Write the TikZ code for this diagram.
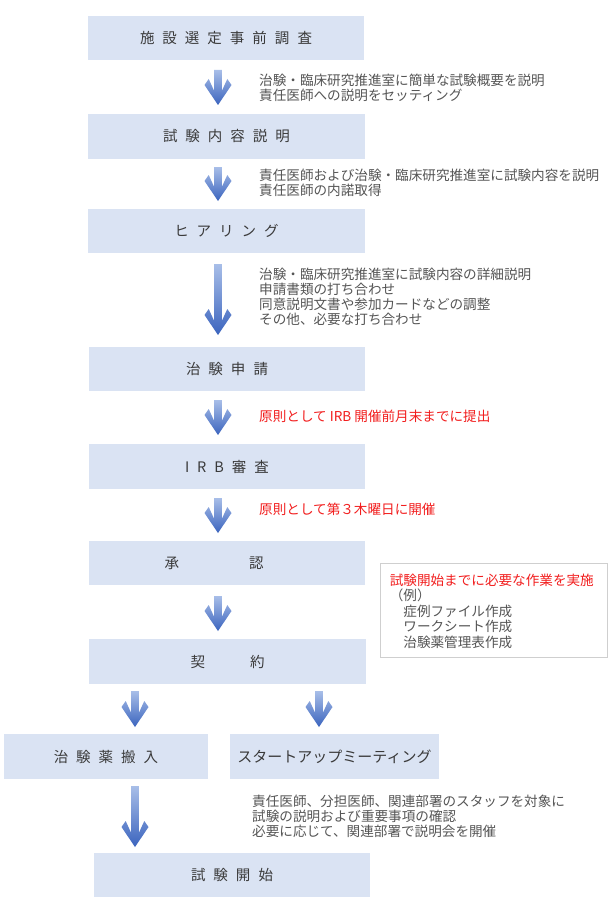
\documentclass[tikz,border=0pt]{standalone}
\usepackage{fontspec}
\setmainfont{Noto Sans CJK JP}
\usetikzlibrary{calc}
\definecolor{boxblue}{HTML}{DAE3F3}
\definecolor{titlegray}{HTML}{3A3A3A}
\definecolor{notegray}{HTML}{555555}
\definecolor{notered}{HTML}{F21E1E}
\definecolor{arrtop}{HTML}{A8BEE8}
\definecolor{arrbot}{HTML}{3B64BE}
\definecolor{framegray}{HTML}{CFCFCF}
\newcommand\ls{\hspace{8pt}}
\newcommand\fatarrow[2]{%
  \shade[top color=arrtop,bottom color=arrbot]
  ($(#1)+(-3.8,0)$) -- ($(#1)+(3.8,0)$) -- ($(#2)+(3.8,-14)$) --
  ($(#2)+(9.3,-26)$) -- ($(#2)+(13.5,-20)$) -- (#2) --
  ($(#2)+(-13.5,-20)$) -- ($(#2)+(-9.3,-26)$) -- ($(#2)+(-3.8,-14)$) -- cycle;}
\begin{document}
\begin{tikzpicture}[x=1pt,y=-1pt,
  box/.style={fill=boxblue, inner sep=0pt, text=titlegray,
    font=\fontsize{14.5}{16}\selectfont, minimum height=44pt},
  note/.style={anchor=north west, inner sep=0pt, align=left, text=notegray,
    font=\fontsize{13.6}{15}\selectfont},
  rednote/.style={note, text=notered}]
\fill[white] (0,0) rectangle (613,915);
\useasboundingbox (0,0) rectangle (613,915);

% boxes
\node[box, minimum width=276pt] (b1) at (226,38) {施\ls 設\ls 選\ls 定\ls 事\ls 前\ls 調\ls 査};
\node[box, minimum width=277pt, minimum height=45pt] (b2) at (226.5,136.5) {試\ls 験\ls 内\ls 容\ls 説\ls 明};
\node[box, minimum width=277pt] (b3) at (226.5,231) {ヒ\ls ア\ls リ\ls ン\ls グ};
\node[box, minimum width=276pt] (b4) at (227,369) {治\ls 験\ls 申\ls 請};
\node[box, minimum width=276pt, minimum height=45pt] (b5) at (227,466.5) {I\ls R\ls B\ls 審\ls 査};
\node[box, minimum width=276pt] (b6) at (227,563) {};
\node[text=titlegray, font=\fontsize{14.5}{16}\selectfont, inner sep=0pt] (b6t) at (214,563) {承\hspace{70pt}認};
\node[box, minimum width=277pt, minimum height=45pt] (b7) at (227.5,661.5) {契\hspace{45pt}約};
\node[box, minimum width=204pt, minimum height=45pt] (b8) at (106,756.5) {治\ls 験\ls 薬\ls 搬\ls 入};
\node[box, minimum width=209pt, minimum height=45pt, font=\fontsize{15}{16}\selectfont] (b9) at (334.5,756.5) {スタートアップミーティング};
\node[box, minimum width=276pt] (b10) at (232,875) {試\ls 験\ls 開\ls 始};

% arrows
\coordinate (a1s) at (218,70);  \coordinate (a1e) at (218,105);
\coordinate (a2s) at (218,167); \coordinate (a2e) at (218,201);
\coordinate (a3s) at (218,264); \coordinate (a3e) at (218,335);
\coordinate (a4s) at (218,400); \coordinate (a4e) at (218,435);
\coordinate (a5s) at (218,498); \coordinate (a5e) at (218,533);
\coordinate (a6s) at (218,596); \coordinate (a6e) at (218,631);
\coordinate (a7s) at (135,691); \coordinate (a7e) at (135,727);
\coordinate (a8s) at (319,691); \coordinate (a8e) at (319,727);
\coordinate (a9s) at (135,786); \coordinate (a9e) at (135,847);
\fatarrow{a1s}{a1e}
\fatarrow{a2s}{a2e}
\fatarrow{a3s}{a3e}
\fatarrow{a4s}{a4e}
\fatarrow{a5s}{a5e}
\fatarrow{a6s}{a6e}
\fatarrow{a7s}{a7e}
\fatarrow{a8s}{a8e}
\fatarrow{a9s}{a9e}

% notes
\node[note] (n1) at (259,74) {治験・臨床研究推進室に簡単な試験概要を説明\\責任医師への説明をセッティング};
\node[note] (n2) at (259,169) {責任医師および治験・臨床研究推進室に試験内容を説明\\責任医師の内諾取得};
\node[note] (n3) at (259,268) {治験・臨床研究推進室に試験内容の詳細説明\\申請書類の打ち合わせ\\同意説明文書や参加カードなどの調整\\その他、必要な打ち合わせ};
\node[rednote] (n4) at (259,410) {原則として IRB 開催前月末までに提出};
\node[rednote] (n5) at (259,503) {原則として第３木曜日に開催};
\node[note] (n6) at (252,795) {責任医師、分担医師、関連部署のスタッフを対象に\\試験の説明および重要事項の確認\\必要に応じて、関連部署で説明会を開催};

% memo box
\node[draw=framegray, fill=white, line width=0.8pt, inner sep=0pt,
  minimum width=227pt, minimum height=94pt] (memo) at (493.5,610) {};
\node[note, font=\fontsize{13.6}{15.5}\selectfont] (memotext) at ($(memo.north west)+(10,11)$)
  {\textcolor{notered}{試験開始までに必要な作業を実施}\\（例）\\　症例ファイル作成\\　ワークシート作成\\　治験薬管理表作成};
\end{tikzpicture}
\end{document}
